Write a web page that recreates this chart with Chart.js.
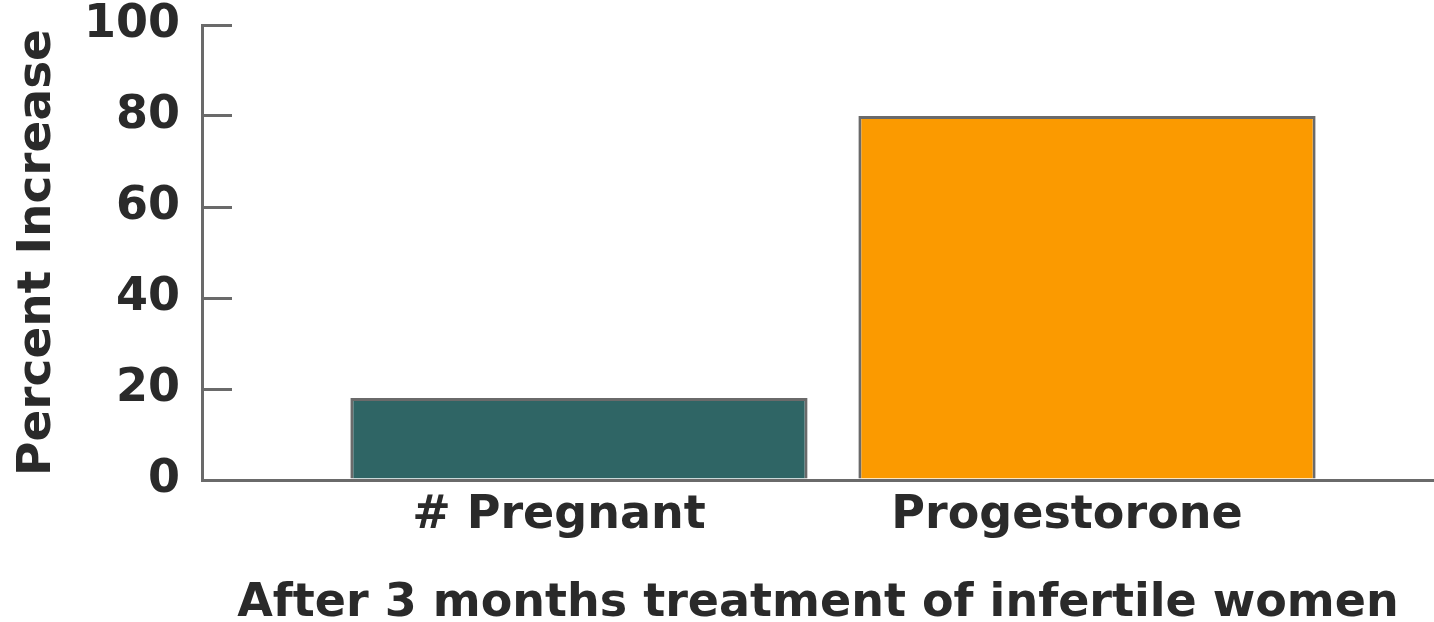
<!DOCTYPE html>
<html>
<head>
<meta charset="utf-8">
<script src="https://cdn.jsdelivr.net/npm/chart.js@4.4.1/dist/chart.umd.min.js"></script>
<style>
  html, body { margin: 0; padding: 0; background: #ffffff; }
  #wrap { width: 1434px; height: 622px; position: relative; }
</style>
</head>
<body>
<div id="wrap"><canvas id="c"></canvas></div>
<script>
const categories = ['# Pregnant', 'Progestorone'];
const values = [18, 80];
const barColors = ['#2f6565', '#fb9a00'];
const yTicks = [0, 20, 40, 60, 80, 100];
const yTitle = 'Percent Increase';
const xTitle = 'After 3 months treatment of infertile women';

const font = { family: '"DejaVu Sans", Verdana, sans-serif', weight: 'bold', size: 46 };
const xTitleFont = { family: '"DejaVu Sans", Verdana, sans-serif', weight: 'bold', size: 46, lineHeight: 0.8 };
const yTitleFont = { family: '"DejaVu Sans", Verdana, sans-serif', weight: 'bold', size: 47 };
const textColor = '#2a2a2a';
const axisColor = '#6a6a6a';

new Chart(document.getElementById('c'), {
  type: 'bar',
  data: {
    datasets: [{
      data: categories.map((c, i) => ({ x: i, y: values[i] })),
      backgroundColor: barColors,
      borderColor: axisColor,
      borderWidth: 3,
      borderSkipped: 'bottom',
      barPercentage: 0.9,
      categoryPercentage: 1.0
    }]
  },
  options: {
    responsive: true,
    maintainAspectRatio: false,
    animation: false,
    layout: { padding: 0 },
    plugins: { legend: { display: false }, tooltip: { enabled: false } },
    scales: {
      x: {
        type: 'linear',
        offset: false,
        min: -0.742,
        max: 1.683,
        afterBuildTicks: (scale) => { scale.ticks = categories.map((c, i) => ({ value: i })); },
        afterFit: (scale) => { scale.height = 142; },
        ticks: {
          callback: (v) => categories[v],
          font: font,
          color: textColor,
          padding: 8,
          labelOffset: -20,
          maxRotation: 0,
          autoSkip: false
        },
        grid: { display: false, drawTicks: false },
        border: { display: true, color: axisColor, width: 3 },
        title: { display: true, text: xTitle, font: xTitleFont, color: textColor, padding: { top: 14, bottom: 0 } }
      },
      y: {
        min: 0,
        max: 100,
        afterBuildTicks: (scale) => { scale.ticks = yTicks.map(v => ({ value: v })); },
        afterFit: (scale) => { scale.width = 202; scale.paddingTop = 25; },
        ticks: { font: font, color: textColor, padding: 52 },
        grid: { drawOnChartArea: false, drawTicks: true, tickLength: -30, color: axisColor, lineWidth: 3 },
        border: { display: true, color: axisColor, width: 3 },
        title: { display: true, text: yTitle, font: yTitleFont, color: textColor, padding: { top: 10, bottom: 0 } }
      }
    }
  }
});
</script>
</body>
</html>
